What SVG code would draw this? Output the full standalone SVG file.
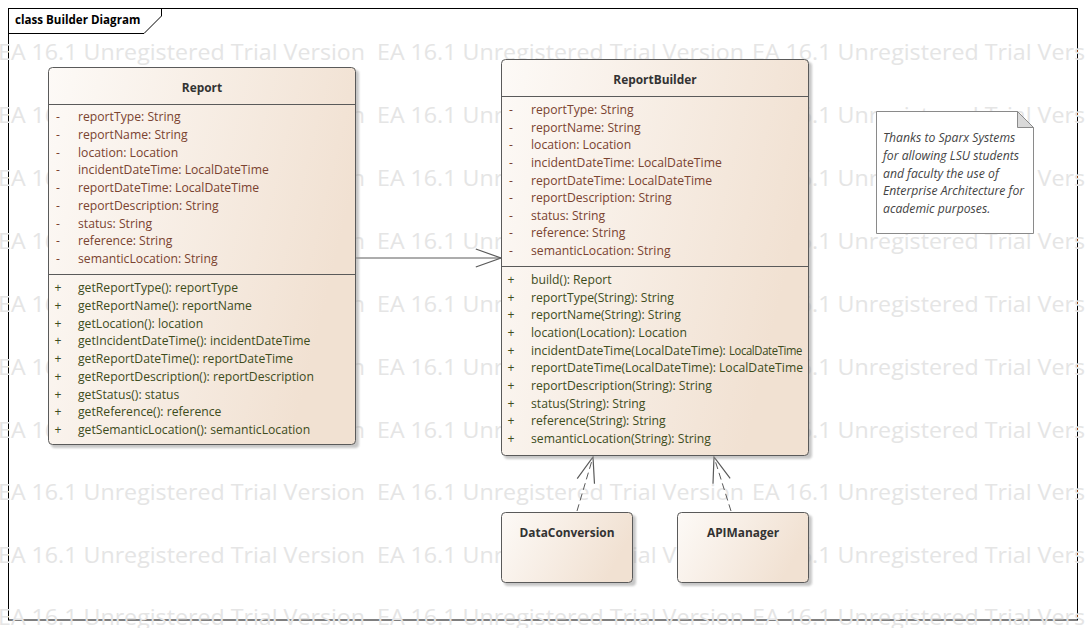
<svg xmlns="http://www.w3.org/2000/svg" width="1085" height="628" viewBox="0 0 1085 628">
<defs>
<style>
.wm{font-family:"Open Sans","Noto Sans",sans-serif;font-size:22px;fill:#e5e5e5}
.box{stroke:#5a5a5a;stroke-width:1;fill:url(#g)}
.sh{fill:#9a9a9a;opacity:0.55;filter:url(#blur)}
.sep{stroke:#5a5a5a;stroke-width:1}
.t{font-family:"Open Sans","Noto Sans",sans-serif;font-size:11.9px;font-weight:bold;fill:#333;text-anchor:middle}
.a{font-family:"Open Sans","Noto Sans",sans-serif;font-size:12.2px;fill:#7a4330}
.m{font-family:"Open Sans","Noto Sans",sans-serif;font-size:12.2px;fill:#3e4c1c}
.v{text-anchor:middle}
.n{font-family:"Open Sans","Noto Sans",sans-serif;font-size:12.2px;font-style:italic;fill:#444}
.c{stroke:#5a5a5a;stroke-width:1;fill:none}
.d{stroke-dasharray:7 4}
</style>
<linearGradient id="g" x1="0" y1="0" x2="1" y2="0.3">
<stop offset="0" stop-color="#fdfaf7"/>
<stop offset="1" stop-color="#f1e1d2"/>
</linearGradient>
<filter id="blur" x="-10%" y="-10%" width="120%" height="120%"><feGaussianBlur stdDeviation="1.2"/></filter>
<marker id="arr" markerUnits="userSpaceOnUse" markerWidth="30" markerHeight="24" viewBox="-22 -10 24 20" refX="0" refY="0" orient="auto">
<path d="M -21 -7.5 L 0 0 L -21 7.5" fill="none" stroke="#5a5a5a" stroke-width="1"/>
</marker>
<g id="wmrow">
<text class="wm" x="-2" y="0" textLength="367" lengthAdjust="spacingAndGlyphs">EA 16.1 Unregistered Trial Version</text>
<text class="wm" x="377" y="0" textLength="367" lengthAdjust="spacingAndGlyphs">EA 16.1 Unregistered Trial Version</text>
<text class="wm" x="752" y="0" textLength="367" lengthAdjust="spacingAndGlyphs">EA 16.1 Unregistered Trial Version</text>
</g>
</defs>
<rect x="0" y="0" width="1085" height="628" fill="#ffffff"/>
<g id="frame">
<rect x="8.5" y="8.5" width="1069" height="611.5" fill="none" stroke="#000" stroke-width="1"/>
<path d="M 8.5 33.5 L 144 33.5 L 161.5 16 L 161.5 8.5" fill="none" stroke="#000" stroke-width="1"/>
<text x="15" y="24" style="font-family:'Open Sans','Noto Sans',sans-serif;font-size:11.6px;font-weight:bold;fill:#000">class Builder Diagram</text>
</g>
<g id="watermark">
<use href="#wmrow" y="60"/>
<use href="#wmrow" y="123"/>
<use href="#wmrow" y="186"/>
<use href="#wmrow" y="249"/>
<use href="#wmrow" y="312"/>
<use href="#wmrow" y="375"/>
<use href="#wmrow" y="438"/>
<use href="#wmrow" y="500"/>
<use href="#wmrow" y="563"/>
<use href="#wmrow" y="625"/>
</g>
<g id="connectors">
<line class="c" x1="356" y1="258" x2="501" y2="258" marker-end="url(#arr)"/>
<line class="c d" x1="577" y1="511" x2="593" y2="457" marker-end="url(#arr)"/>
<line class="c d" x1="731" y1="511" x2="714" y2="457" marker-end="url(#arr)"/>
</g>
<g id="Report">
<rect class="sh" x="51" y="70" width="308" height="378" rx="4"/>
<rect class="box" x="48.5" y="67.5" width="307" height="377" rx="4"/>
<line class="sep" x1="48.5" y1="104.5" x2="355.5" y2="104.5"/>
<line class="sep" x1="48.5" y1="274.5" x2="355.5" y2="274.5"/>
<text class="t" x="202" y="91.5">Report</text>
<g class="a">
<text class="v" x="58" y="121">-</text><text x="78" y="121">reportType: String</text>
<text class="v" x="58" y="138.75">-</text><text x="78" y="138.75">reportName: String</text>
<text class="v" x="58" y="156.5">-</text><text x="78" y="156.5">location: Location</text>
<text class="v" x="58" y="174.25">-</text><text x="78" y="174.25">incidentDateTime: LocalDateTime</text>
<text class="v" x="58" y="192">-</text><text x="78" y="192">reportDateTime: LocalDateTime</text>
<text class="v" x="58" y="209.75">-</text><text x="78" y="209.75">reportDescription: String</text>
<text class="v" x="58" y="227.5">-</text><text x="78" y="227.5">status: String</text>
<text class="v" x="58" y="245.25">-</text><text x="78" y="245.25">reference: String</text>
<text class="v" x="58" y="263">-</text><text x="78" y="263">semanticLocation: String</text>
</g>
<g class="m">
<text class="v" x="58" y="292">+</text><text x="78" y="292">getReportType(): reportType</text>
<text class="v" x="58" y="309.75">+</text><text x="78" y="309.75">getReportName(): reportName</text>
<text class="v" x="58" y="327.5">+</text><text x="78" y="327.5">getLocation(): location</text>
<text class="v" x="58" y="345.25">+</text><text x="78" y="345.25">getIncidentDateTime(): incidentDateTime</text>
<text class="v" x="58" y="363">+</text><text x="78" y="363">getReportDateTime(): reportDateTime</text>
<text class="v" x="58" y="380.75">+</text><text x="78" y="380.75">getReportDescription(): reportDescription</text>
<text class="v" x="58" y="398.5">+</text><text x="78" y="398.5">getStatus(): status</text>
<text class="v" x="58" y="416.25">+</text><text x="78" y="416.25">getReference(): reference</text>
<text class="v" x="58" y="434">+</text><text x="78" y="434">getSemanticLocation(): semanticLocation</text>
</g>
</g>
<g id="ReportBuilder">
<rect class="sh" x="504" y="62" width="308" height="397" rx="4"/>
<rect class="box" x="501.5" y="59.5" width="307" height="396" rx="4"/>
<line class="sep" x1="501.5" y1="96.5" x2="808.5" y2="96.5"/>
<line class="sep" x1="501.5" y1="266.5" x2="808.5" y2="266.5"/>
<text class="t" x="655" y="83.5">ReportBuilder</text>
<g class="a">
<text class="v" x="511" y="114">-</text><text x="531" y="114">reportType: String</text>
<text class="v" x="511" y="131.6">-</text><text x="531" y="131.6">reportName: String</text>
<text class="v" x="511" y="149.25">-</text><text x="531" y="149.25">location: Location</text>
<text class="v" x="511" y="166.9">-</text><text x="531" y="166.9">incidentDateTime: LocalDateTime</text>
<text class="v" x="511" y="184.5">-</text><text x="531" y="184.5">reportDateTime: LocalDateTime</text>
<text class="v" x="511" y="202.1">-</text><text x="531" y="202.1">reportDescription: String</text>
<text class="v" x="511" y="219.75">-</text><text x="531" y="219.75">status: String</text>
<text class="v" x="511" y="237.4">-</text><text x="531" y="237.4">reference: String</text>
<text class="v" x="511" y="255">-</text><text x="531" y="255">semanticLocation: String</text>
</g>
<g class="m">
<text class="v" x="511" y="284">+</text><text x="531" y="284">build(): Report</text>
<text class="v" x="511" y="301.67">+</text><text x="531" y="301.67">reportType(String): String</text>
<text class="v" x="511" y="319.33">+</text><text x="531" y="319.33">reportName(String): String</text>
<text class="v" x="511" y="337">+</text><text x="531" y="337">location(Location): Location</text>
<text class="v" x="511" y="354.67">+</text><text x="531" y="354.67">incidentDateTime(LocalDateTime): <tspan x="729" textLength="73" lengthAdjust="spacingAndGlyphs" style="letter-spacing:-0.4px">LocalDateTime</tspan></text>
<text class="v" x="511" y="372.33">+</text><text x="531" y="372.33" textLength="272" lengthAdjust="spacingAndGlyphs">reportDateTime(LocalDateTime): LocalDateTime</text>
<text class="v" x="511" y="390">+</text><text x="531" y="390">reportDescription(String): String</text>
<text class="v" x="511" y="407.67">+</text><text x="531" y="407.67">status(String): String</text>
<text class="v" x="511" y="425.33">+</text><text x="531" y="425.33">reference(String): String</text>
<text class="v" x="511" y="443">+</text><text x="531" y="443">semanticLocation(String): String</text>
</g>
</g>
<g id="DataConversion">
<rect class="sh" x="504" y="515" width="132" height="71" rx="4"/>
<rect class="box" x="501.5" y="512.5" width="131" height="70" rx="4"/>
<text class="t" x="567" y="536.5">DataConversion</text>
</g>
<g id="APIManager">
<rect class="sh" x="680" y="515" width="132" height="71" rx="4"/>
<rect class="box" x="677.5" y="512.5" width="131" height="70" rx="4"/>
<text class="t" x="743" y="536.5">APIManager</text>
</g>
<g id="Note">
<path d="M 876.5 111.5 L 1017.5 111.5 L 1033.5 127.5 L 1033.5 233.5 L 876.5 233.5 Z" fill="#ffffff" stroke="#8a8a8a" stroke-width="1"/>
<path d="M 1017.5 111.5 L 1017.5 127.5 L 1033.5 127.5 Z" fill="#d9d9d9" stroke="#8a8a8a" stroke-width="1"/>
<text class="n" x="883" y="142">Thanks to Sparx Systems</text>
<text class="n" x="883" y="159.75">for allowing LSU students</text>
<text class="n" x="883" y="177.5">and faculty the use of</text>
<text class="n" x="883" y="195.25">Enterprise Architecture for</text>
<text class="n" x="883" y="213">academic purposes.</text>
</g>
</svg>
